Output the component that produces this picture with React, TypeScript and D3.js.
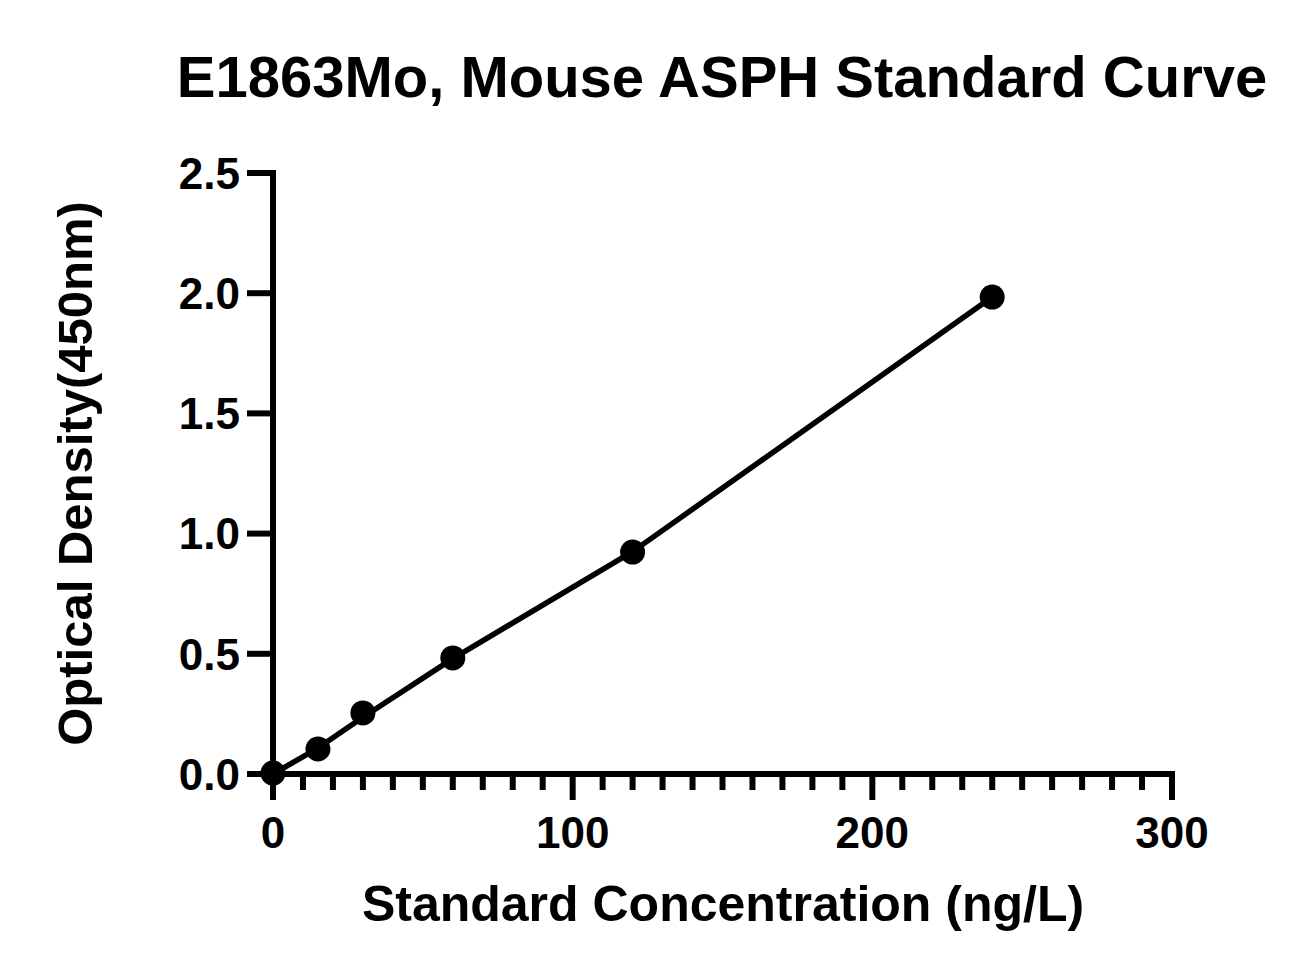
import * as d3 from 'd3';

const concentrations = [0, 15, 30, 60, 120, 240];
const densities = [0.004, 0.104, 0.254, 0.483, 0.923, 1.984];
// fitted curve (passes just below the 30 ng/L point)
const fitDensities = [0.0, 0.108, 0.236, 0.48, 0.925, 1.984];
const yTicks = [0, 0.5, 1.0, 1.5, 2.0, 2.5];
const xMajorTicks = [0, 100, 200, 300];
const xMinorTicks = d3.range(0, 301, 10).filter((v) => v % 100 !== 0);

const title = 'E1863Mo, Mouse ASPH Standard Curve';
const xTitle = 'Standard Concentration (ng/L)';
const yTitle = 'Optical Density(450nm)';

const W = 1314;
const H = 975;
const FONT = '"Liberation Sans", Arial, Helvetica, sans-serif';

export default function App() {
  const x = d3.scaleLinear().domain([0, 300]).range([273, 1172]);
  const y = d3.scaleLinear().domain([0, 2.5]).range([774, 173]);

  const points = concentrations.map((c, i) => ({ c, od: densities[i] }));
  const fit = concentrations.map((c, i) => ({ c, od: fitDensities[i] }));
  const line = d3
    .line<{ c: number; od: number }>()
    .x((d) => x(d.c))
    .y((d) => y(d.od));

  const axisW = 6;

  return (
    <svg
      width={W}
      height={H}
      style={{ position: 'absolute', left: 0, top: 0, background: '#fff' }}
      fontFamily={FONT}
      fontWeight="bold"
    >
      <rect width={W} height={H} fill="#fff" />

      {/* Title */}
      <text x={722} y={97} textAnchor="middle" fontSize={58} fill="#000">
        {title}
      </text>

      {/* Y axis */}
      <g stroke="#000" strokeWidth={axisW} strokeLinecap="square">
        <line x1={x(0)} x2={x(0)} y1={y(2.5)} y2={y(0)} />
        {yTicks.map((t) => (
          <line key={`yt-${t}`} x1={250} x2={x(0)} y1={y(t)} y2={y(t)} />
        ))}
      </g>
      {yTicks.map((t) => (
        <text
          key={`yl-${t}`}
          x={240}
          y={y(t)}
          dy="0.36em"
          textAnchor="end"
          fontSize={44}
          fill="#000"
        >
          {d3.format('.1f')(t)}
        </text>
      ))}

      {/* X axis */}
      <g stroke="#000" strokeWidth={axisW} strokeLinecap="square">
        <line x1={x(0)} x2={x(300)} y1={y(0)} y2={y(0)} />
        {xMajorTicks.map((t) => (
          <line key={`xt-${t}`} x1={x(t)} x2={x(t)} y1={y(0)} y2={797} />
        ))}
        {xMinorTicks.map((t) => (
          <line key={`xm-${t}`} x1={x(t)} x2={x(t)} y1={y(0)} y2={787} />
        ))}
      </g>
      {xMajorTicks.map((t) => (
        <text key={`xl-${t}`} x={x(t)} y={848} textAnchor="middle" fontSize={44} fill="#000">
          {t}
        </text>
      ))}

      {/* Axis titles */}
      <text x={723} y={921} textAnchor="middle" fontSize={50} fill="#000">
        {xTitle}
      </text>
      <text
        transform={`translate(92, ${(y(0) + y(2.5)) / 2}) rotate(-90)`}
        textAnchor="middle"
        fontSize={49}
        fill="#000"
      >
        {yTitle}
      </text>

      {/* Fitted curve and points */}
      <path
        d={line(fit) ?? ''}
        fill="none"
        stroke="#000"
        strokeWidth={5.5}
        strokeLinejoin="round"
      />
      {points.map((p) => (
        <circle key={`pt-${p.c}`} cx={x(p.c)} cy={y(p.od)} r={12.5} fill="#000" />
      ))}
    </svg>
  );
}
